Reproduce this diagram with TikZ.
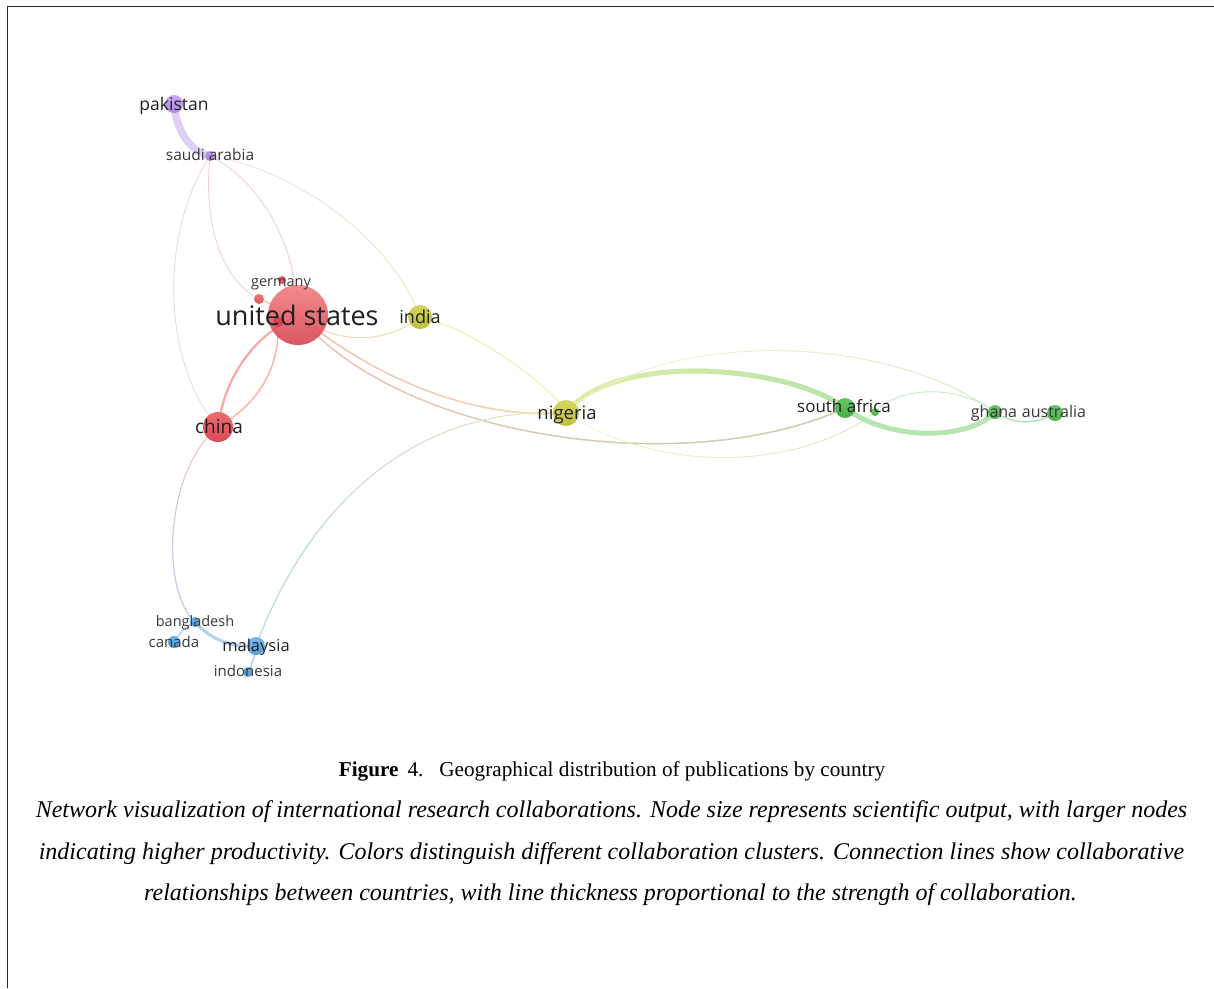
\documentclass[tikz,border=0pt]{standalone}
\usepackage{fontspec}
\usetikzlibrary{fadings}
\newfontfamily\lblfont{Open Sans}
\newfontfamily\capfont{Liberation Serif}
\pgfdeclarelayer{bg}
\pgfsetlayers{bg,main}
\tikzfading[name=fE, left color=transparent!100, right color=transparent!0]
\tikzfading[name=fW, left color=transparent!0, right color=transparent!100]
\tikzfading[name=fS, top color=transparent!100, bottom color=transparent!0]
\newcommand\gedge[5]{%
  \draw[edge,line width=#1,draw=#2] #5;
  \draw[edge,line width=#1,draw=#3,path fading=#4] #5;}
% node colours
\definecolor{pakT}{HTML}{C8A8EE}\definecolor{pakB}{HTML}{B08AE2}
\definecolor{sauT}{HTML}{BE9AEA}\definecolor{sauB}{HTML}{A683DC}
\definecolor{gerT}{HTML}{E66A6A}\definecolor{gerB}{HTML}{DC5656}
\definecolor{gdT}{HTML}{EE7474}\definecolor{gdB}{HTML}{E05A5A}
\definecolor{usT}{HTML}{F28282}\definecolor{usB}{HTML}{D64858}
\definecolor{hidT}{HTML}{DA4654}\definecolor{hidB}{HTML}{D23E4C}
\definecolor{indT}{HTML}{D4D45E}\definecolor{indB}{HTML}{BEBE3E}
\definecolor{chnT}{HTML}{EC6C6C}\definecolor{chnB}{HTML}{D84A56}
\definecolor{nigT}{HTML}{D6D65E}\definecolor{nigB}{HTML}{C0C040}
\definecolor{safT}{HTML}{66C666}\definecolor{safB}{HTML}{44AC44}
\definecolor{sdB}{HTML}{50B450}
\definecolor{ghaT}{HTML}{68C668}\definecolor{ghaB}{HTML}{4EB04E}
\definecolor{bluT}{HTML}{6CB0E6}\definecolor{bluB}{HTML}{4E98D6}
\definecolor{malT}{HTML}{7AB8EA}\definecolor{malB}{HTML}{58A0DC}
% edge colours
\definecolor{ePak}{HTML}{DED0F8}\definecolor{eSC}{HTML}{F4D4E0}
\definecolor{eSG}{HTML}{F5CED6}\definecolor{eSU}{HTML}{F2CCDA}
\definecolor{eSIa}{HTML}{EAE0F4}\definecolor{eSIb}{HTML}{F0F0C0}
\definecolor{eUG}{HTML}{F6B0B0}
\definecolor{eUIa}{HTML}{F6D2C2}\definecolor{eUIb}{HTML}{F0EAB4}
\definecolor{eIN}{HTML}{EEEEAA}
\definecolor{eUNa}{HTML}{F5B8A8}\definecolor{eUNb}{HTML}{EEE2A8}
\definecolor{eUSa}{HTML}{F2BAAC}\definecolor{eUSb}{HTML}{B4DEAE}
\definecolor{eNSa}{HTML}{E4EEA8}\definecolor{eNSb}{HTML}{B4E4AC}
\definecolor{eNGa}{HTML}{F0F4D4}\definecolor{eNGb}{HTML}{CCEECC}
\definecolor{eNDa}{HTML}{F0F4CA}
\definecolor{eSGk}{HTML}{B6E6B0}\definecolor{eDG}{HTML}{C4ECC4}
\definecolor{eGA}{HTML}{B0E0B0}
\definecolor{eNMa}{HTML}{EAEAB6}\definecolor{eNMb}{HTML}{B4D4EE}
\definecolor{eCBa}{HTML}{F2BEBE}\definecolor{eCBb}{HTML}{B8D2F0}
\definecolor{eBl}{HTML}{B2D2F0}
\definecolor{eCU}{HTML}{F6AAA2}\definecolor{eCH}{HTML}{F7B6AE}
\tikzset{
  cnode/.style n args={3}{circle,inner sep=0pt,minimum size=#1,top color=#2,bottom color=#3,draw=none},
  edge/.style={line cap=round},
  lbl/.style={anchor=base,inner sep=0pt,text=black!88,font=\lblfont\fontsize{#1}{#1}\selectfont},
  slbl/.style={anchor=base,inner sep=0pt,text=black!78,font=\lblfont\fontsize{#1}{#1}\selectfont},
  capt/.style={anchor=base,inner sep=0pt,font=\capfont\fontsize{#1}{#1}\selectfont}
}
\begin{document}
\begin{tikzpicture}[x=1pt,y=-1pt]
\useasboundingbox (0,0) rectangle (1214,988);
\draw[line width=1.4pt,black!85] (7.5,988) -- (7.5,6.5) -- (1214,6.5);

% ---------- circles ----------
\node[cnode={18pt}{pakT}{pakB}] (pak) at (174,104) {};
\node[cnode={10pt}{sauT}{sauB}] (sau) at (210,156) {};
\node[cnode={8pt}{gerT}{gerB}] (ger) at (282,280) {};
\node[cnode={10pt}{gdT}{gdB}] (gd) at (259,299) {};
\node[cnode={60pt}{usT}{usB},fill opacity=0.92] (us) at (298,315) {};
\node[cnode={10pt}{hidT}{hidB}] (hid) at (278,322) {};
\node[cnode={24pt}{indT}{indB}] (ind) at (420,317) {};
\node[cnode={30pt}{chnT}{chnB}] (chn) at (218,427) {};
\node[cnode={26pt}{nigT}{nigB}] (nig) at (566,413) {};
\node[cnode={20pt}{safT}{safB}] (saf) at (845,408) {};
\node[cnode={8pt}{safT}{sdB}] (sd) at (875,412) {};
\node[cnode={14pt}{ghaT}{ghaB}] (gha) at (995,412) {};
\node[cnode={16pt}{ghaT}{ghaB}] (aus) at (1055,413) {};
\node[cnode={10pt}{bluT}{bluB}] (ban) at (195,622) {};
\node[cnode={12pt}{bluT}{bluB}] (can) at (174,642) {};
\node[cnode={18pt}{malT}{malB}] (mal) at (256,646) {};
\node[cnode={10pt}{bluT}{bluB}] (idn) at (248,672) {};

% ---------- edges ----------
\begin{pgfonlayer}{bg}
\draw[edge,line width=7.5pt,draw=ePak] (pak.center) .. controls (177,134) and (192,152) .. (sau.center);
\draw[edge,line width=0.9pt,draw=eSC] (sau.center) .. controls (158,235) and (163,365) .. (chn.center);
\draw[edge,line width=0.9pt,draw=eSG] (sau.center) .. controls (203,225) and (222,280) .. (gd.center);
\draw[edge,line width=0.9pt,draw=eSU] (sau.center) .. controls (258,180) and (296,240) .. (us.center);
\gedge{0.9pt}{eSIa}{eSIb}{fE}{(sau.center) .. controls (290,168) and (390,235) .. (ind.center)}
\draw[edge,line width=1pt,draw=eUG] (us.center) -- (ger.center);
\draw[edge,line width=1pt,draw=eUG] (us.center) -- (gd.center);
\gedge{1pt}{eUIa}{eUIb}{fE}{(us.center) .. controls (335,345) and (385,345) .. (ind.center)}
\draw[edge,line width=1pt,draw=eIN] (ind.center) .. controls (480,330) and (560,395) .. (nig.center);
\gedge{1.3pt}{eUNa}{eUNb}{fE}{(us.center) .. controls (370,375) and (470,420) .. (nig.center)}
\gedge{1.3pt}{eUSa}{eUSb}{fE}{(us.center) .. controls (400,440) and (690,480) .. (saf.center)}
\gedge{5pt}{eNSa}{eNSb}{fE}{(nig.center) .. controls (615,350) and (790,366) .. (saf.center)}
\gedge{0.8pt}{eNGa}{eNGb}{fE}{(nig.center) .. controls (660,330) and (880,330) .. (gha.center)}
\gedge{0.8pt}{eNDa}{eNGb}{fE}{(nig.center) .. controls (660,475) and (800,470) .. (sd.center)}
\draw[edge,line width=5pt,draw=eSGk] (saf.center) .. controls (890,442) and (970,440) .. (gha.center);
\draw[edge,line width=0.9pt,draw=eDG] (sd.center) .. controls (900,385) and (960,385) .. (gha.center);
\draw[edge,line width=1.3pt,draw=eGA] (gha.center) .. controls (1015,425) and (1035,425) .. (aus.center);
\gedge{1pt}{eNMa}{eNMb}{fW}{(nig.center) .. controls (420,405) and (310,500) .. (mal.center)}
\gedge{1pt}{eCBa}{eCBb}{fS}{(chn.center) .. controls (165,470) and (160,590) .. (ban.center)}
\draw[edge,line width=3pt,draw=eBl] (ban.center) .. controls (210,640) and (235,648) .. (mal.center);
\draw[edge,line width=1.5pt,draw=eBl] (can.center) to[bend left=15] (ban.center);
\draw[edge,line width=1.5pt,draw=eBl] (mal.center) to[bend left=10] (idn.center);
\draw[edge,line width=2.2pt,draw=eCU] (chn.center) .. controls (225,375) and (255,335) .. (us.center);
\draw[edge,line width=1.5pt,draw=eCH] (chn.center) .. controls (265,400) and (280,360) .. (hid.center);
\end{pgfonlayer}

% ---------- labels ----------
\node[lbl=17.5] (pak-l) at (174,110) {pakistan};
\node[slbl=15.5] (sau-l) at (210,160) {saudi arabia};
\node[slbl=14.5] (ger-l) at (281,286) {germany};
\node[lbl=27] (us-l) at (297,325) {united states};
\node[lbl=18] (ind-l) at (420,323) {india};
\node[lbl=19] (chn-l) at (219,433) {china};
\node[lbl=18.5] (nig-l) at (567,419) {nigeria};
\node[lbl=17] (saf-l) at (844,412) {south africa};
\node[slbl=16] (gha-l) at (994,417) {ghana};
\node[slbl=16] (aus-l) at (1054,417) {australia};
\node[slbl=14.5] (ban-l) at (195,626) {bangladesh};
\node[slbl=15] (can-l) at (174,647) {canada};
\node[lbl=16.5] (mal-l) at (256,651) {malaysia};
\node[slbl=15] (idn-l) at (248,676) {indonesia};

% ---------- caption ----------
\node[capt=21.2] (cap1) at (612,776) {\textbf{Figure}\hspace{9pt}4.\hspace{16pt}Geographical distribution of publications by country};
\node[capt=24] (cap2) at (611.5,817) {\itshape Network visualization of international research collaborations. Node size represents scientific output, with larger nodes};
\node[capt=24] (cap3) at (611.5,859) {\itshape indicating higher productivity. Colors distinguish different collaboration clusters. Connection lines show collaborative};
\node[capt=24] (cap4) at (610.5,900) {\itshape relationships between countries, with line thickness proportional to the strength of collaboration.};
\end{tikzpicture}
\end{document}
